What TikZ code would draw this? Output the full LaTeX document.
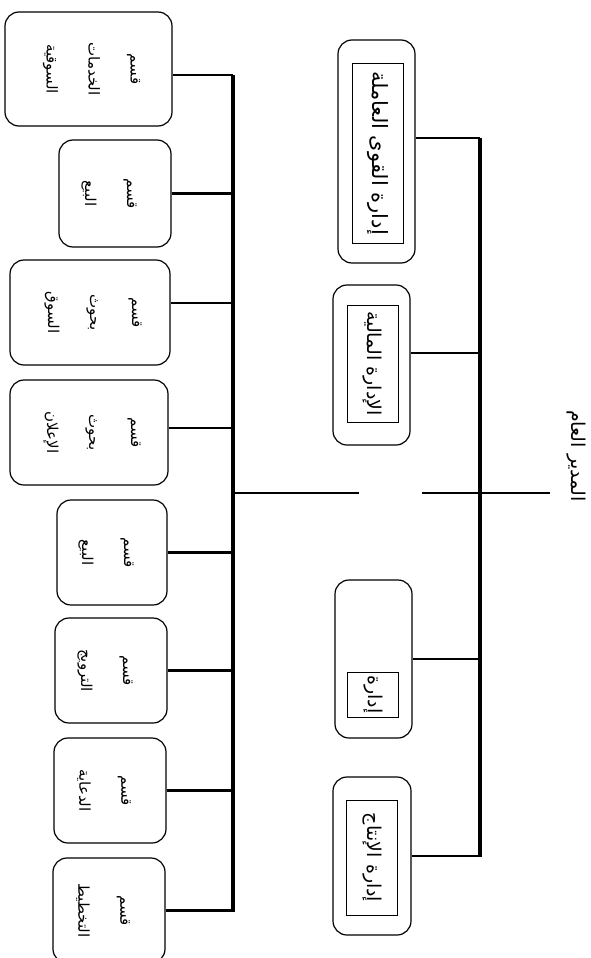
\documentclass[tikz,border=0pt]{standalone}
\usepackage{fontspec}
\newfontfamily\arabicfont[Script=Arabic]{DejaVu Sans}
\TeXXeTstate=1
\begin{document}
\begin{tikzpicture}[x=1pt,y=-1pt,
  box/.style={draw=black,line width=1.2pt,rounded corners=14pt,inner sep=0pt},
  sectxt/.style={rotate=-90,align=center,font=\arabicfont\fontsize{15}{42}\selectfont,inner sep=0pt},
  mgrtxt/.style={rotate=-90,draw=black,line width=0.9pt,align=center,inner sep=0pt,minimum height=51pt,font=\arabicfont\fontsize{19}{22}\selectfont},
  roottxt/.style={rotate=-90,inner sep=0pt,font=\arabicfont\fontsize{19}{22}\selectfont},
  bus/.style={line width=4pt,line cap=square},
  conn/.style={line width=2.8pt}]
\useasboundingbox (0,0) rectangle (591,958);
\clip (0,0) rectangle (591,958);
\fill[white] (0,0) rectangle (591,958);

% section boxes (left)
\node[box,minimum width=167pt,minimum height=114pt] (L1) at (88.5,69) {};
\node[box,minimum width=112pt,minimum height=107pt] (L2) at (115,193.5) {};
\node[box,minimum width=160pt,minimum height=105pt] (L3) at (90,312.5) {};
\node[box,minimum width=158pt,minimum height=105pt] (L4) at (89,432.5) {};
\node[box,minimum width=110pt,minimum height=105pt] (L5) at (112,552.5) {};
\node[box,minimum width=112pt,minimum height=105pt] (L6) at (111,670.5) {};
\node[box,minimum width=112pt,minimum height=105pt] (L7) at (110,790.5) {};
\node[box,minimum width=112pt,minimum height=105pt] (L8) at (109,910.5) {};

\node[sectxt] (L1t) at ([xshift=3pt]L1.center) {\beginR قسم\endR\\\beginR الخدمات\endR\\\beginR السوقية\endR};
\node[sectxt] (L2t) at ([xshift=-6pt]L2.center) {\beginR قسم\endR\\\beginR البيع\endR};
\node[sectxt] (L3t) at ([xshift=3pt]L3.center) {\beginR قسم\endR\\\beginR بحوث\endR\\\beginR السوق\endR};
\node[sectxt] (L4t) at ([xshift=3pt]L4.center) {\beginR قسم\endR\\\beginR بحوث\endR\\\beginR الإعلان\endR};
\node[sectxt] (L5t) at ([xshift=-6pt]L5.center) {\beginR قسم\endR\\\beginR البيع\endR};
\node[sectxt] (L6t) at ([xshift=-6pt]L6.center) {\beginR قسم\endR\\\beginR الترويج\endR};
\node[sectxt] (L7t) at ([xshift=-6pt]L7.center) {\beginR قسم\endR\\\beginR الدعاية\endR};
\node[sectxt] (L8t) at ([xshift=-6pt]L8.center) {\beginR قسم\endR\\\beginR التخطيط\endR};

% manager boxes (middle)
\node[box,minimum width=77pt,minimum height=223pt] (R1) at (376.5,151.5) {};
\node[box,minimum width=77pt,minimum height=160pt] (R2) at (371.5,365) {};
\node[box,minimum width=77pt,minimum height=158pt] (R3) at (373.5,659) {};
\node[box,minimum width=78pt,minimum height=158pt] (R4) at (372,856) {};

\node[mgrtxt,minimum width=180pt,font=\arabicfont\fontsize{21}{24}\selectfont] (R1t) at (377.5,153) {\beginR إدارة القوى العاملة\endR};
\node[mgrtxt,minimum width=117pt] (R2t) at (372.5,363.5) {\beginR الإدارة المالية\endR};
\node[mgrtxt,minimum width=45pt] (R3t) at (373,694.5) {\beginR إدارة\endR};
\node[mgrtxt,minimum width=115pt] (R4t) at (372,857.5) {\beginR إدارة الإنتاج\endR};

% general manager
\node[roottxt] (root) at (576,456) {\beginR المدير العام\endR};

% bus coordinates
\coordinate (lbT) at (233,75);
\coordinate (lbB) at (233,912);
\coordinate (rbT) at (480,138);
\coordinate (rbB) at (480,857);
\coordinate (hL) at (233,493);
\coordinate (hG1) at (359,493);
\coordinate (hG2) at (422,493);
\coordinate (hR) at (550,493);

\draw[bus] (lbT) -- (lbB);
\draw[bus] (rbT) -- (rbB);
\draw[conn] (hL) -- (hG1);
\draw[conn] (hG2) -- (hR);

% section connectors
\draw[conn] ([yshift=-6pt]L1.east) -- ([yshift=-6pt]L1.east -| lbT);
\draw[conn] (L2.east) -- (L2.east -| lbT);
\draw[conn] ([yshift=9.5pt]L3.east) -- ([yshift=9.5pt]L3.east -| lbT);
\draw[conn] ([yshift=4.5pt]L4.east) -- ([yshift=4.5pt]L4.east -| lbT);
\draw[conn] (L5.east) -- (L5.east -| lbT);
\draw[conn] (L6.east) -- (L6.east -| lbT);
\draw[conn] (L7.east) -- (L7.east -| lbT);
\draw[conn] (L8.east) -- (L8.east -| lbT);

% manager connectors
\draw[conn] ([yshift=13.5pt]R1.east) -- ([yshift=13.5pt]R1.east -| rbT);
\draw[conn] ([yshift=12pt]R2.east) -- ([yshift=12pt]R2.east -| rbT);
\draw[conn] (R3.east) -- (R3.east -| rbT);
\draw[conn] (R4.east) -- (R4.east -| rbT);
\end{tikzpicture}
\end{document}
